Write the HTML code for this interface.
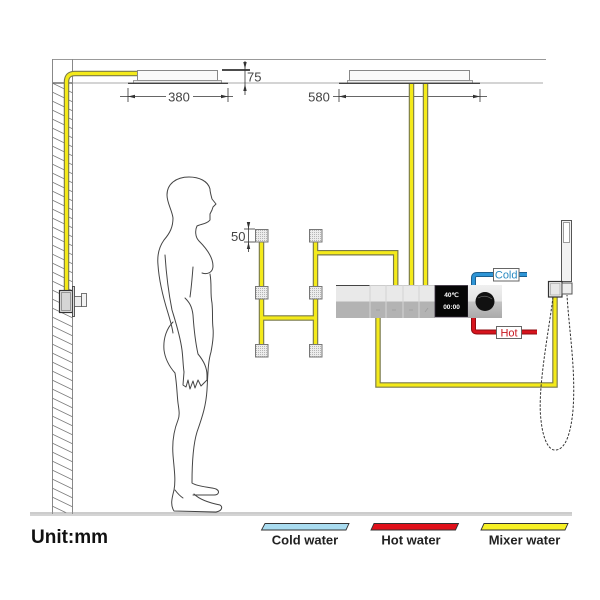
<!DOCTYPE html>
<html><head><meta charset="utf-8">
<style>
html,body{margin:0;padding:0;background:#fff;}
svg{display:block;}
text{font-family:"Liberation Sans",Arial,sans-serif;}
</style></head>
<body>
<svg width="600" height="600" viewBox="0 0 600 600" xmlns="http://www.w3.org/2000/svg">
<defs>
<clipPath id="wallclip"><rect x="52.5" y="83" width="20" height="430"/></clipPath>
<pattern id="dots" width="2" height="2" patternUnits="userSpaceOnUse"><rect width="2" height="2" fill="#ececec"/><rect width="1" height="1" fill="#b5b5b5"/></pattern>
<linearGradient id="knobg" x1="0" y1="0" x2="0" y2="1"><stop offset="0" stop-color="#f0f0f0"/><stop offset="0.5" stop-color="#e2e2e2"/><stop offset="0.5" stop-color="#c4c4c4"/><stop offset="1" stop-color="#aaaaaa"/></linearGradient>
</defs>

<!-- ceiling -->
<line x1="52" y1="59.5" x2="546" y2="59.5" stroke="#999" stroke-width="1"/>
<line x1="52" y1="83" x2="543" y2="83" stroke="#aaa" stroke-width="1"/>
<line x1="52" y1="83" x2="73" y2="83" stroke="#555" stroke-width="1.2"/>

<!-- wall -->
<line x1="52.5" y1="59" x2="52.5" y2="514" stroke="#888" stroke-width="1"/>
<line x1="72.5" y1="59" x2="72.5" y2="514" stroke="#888" stroke-width="1"/>
<g clip-path="url(#wallclip)" stroke="#777" stroke-width="0.8">
<path d="M52,74 L73,84 M52,83 L73,93 M52,92 L73,102 M52,101 L73,111 M52,110 L73,120 M52,119 L73,129 M52,128 L73,138 M52,137 L73,147 M52,146 L73,156 M52,155 L73,165 M52,164 L73,174 M52,173 L73,183 M52,182 L73,192 M52,191 L73,201 M52,200 L73,210 M52,209 L73,219 M52,218 L73,228 M52,227 L73,237 M52,236 L73,246 M52,245 L73,255 M52,254 L73,264 M52,263 L73,273 M52,272 L73,282 M52,281 L73,291 M52,290 L73,300 M52,299 L73,309 M52,308 L73,318 M52,317 L73,327 M52,326 L73,336 M52,335 L73,345 M52,344 L73,354 M52,353 L73,363 M52,362 L73,372 M52,371 L73,381 M52,380 L73,390 M52,389 L73,399 M52,398 L73,408 M52,407 L73,417 M52,416 L73,426 M52,425 L73,435 M52,434 L73,444 M52,443 L73,453 M52,452 L73,462 M52,461 L73,471 M52,470 L73,480 M52,479 L73,489 M52,488 L73,498 M52,497 L73,507 M52,506 L73,516"/>
</g>

<!-- floor -->
<line x1="30" y1="513" x2="572" y2="513" stroke="#999" stroke-width="1"/>
<line x1="30" y1="515" x2="572" y2="515" stroke="#aaa" stroke-width="1"/>

<!-- shower head 1 -->
<rect x="137.5" y="70.5" width="80" height="10" fill="#fafafa" stroke="#888" stroke-width="1"/>
<rect x="133.5" y="80.5" width="88" height="2.5" fill="#eee" stroke="#888" stroke-width="0.8"/>
<line x1="128" y1="83.3" x2="228" y2="83.3" stroke="#444" stroke-width="1.3"/>
<!-- shower head 2 -->
<rect x="349.5" y="70.5" width="120" height="10" fill="#fafafa" stroke="#888" stroke-width="1"/>
<rect x="347.5" y="80.5" width="125" height="2.5" fill="#eee" stroke="#888" stroke-width="0.8"/>
<line x1="339" y1="83.3" x2="480" y2="83.3" stroke="#444" stroke-width="1.3"/>

<!-- dimensions -->
<g stroke="#333" stroke-width="0.8" fill="none">
<line x1="128" y1="88" x2="128" y2="102"/>
<line x1="228" y1="88" x2="228" y2="102"/>
<line x1="120" y1="96.5" x2="166" y2="96.5"/>
<line x1="193" y1="96.5" x2="233" y2="96.5"/>
<line x1="339" y1="89" x2="339" y2="102"/>
<line x1="480" y1="89" x2="480" y2="102"/>
<line x1="333" y1="96.5" x2="487" y2="96.5"/>
<line x1="245" y1="61" x2="245" y2="95"/>
<line x1="248.5" y1="222" x2="248.5" y2="252"/>
<line x1="244" y1="229" x2="255" y2="229"/>
<line x1="244" y1="242" x2="255" y2="242"/>
</g>
<line x1="222" y1="70" x2="250" y2="70" stroke="#333" stroke-width="1.8"/>
<g fill="#333">
<polygon points="128,96.5 135,94.8 135,98.2"/>
<polygon points="228,96.5 221,94.8 221,98.2"/>
<polygon points="339,96.5 346,94.8 346,98.2"/>
<polygon points="480,96.5 473,94.8 473,98.2"/>
<polygon points="245,69 243.3,62 246.7,62"/>
<polygon points="245,84 243.3,91 246.7,91"/>
<polygon points="248.5,229 246.8,222 250.2,222"/>
<polygon points="248.5,242 246.8,249 250.2,249"/>
</g>
<g fill="#444" font-size="13">
<text x="179" y="101.5" text-anchor="middle">380</text>
<text x="319" y="101.5" text-anchor="middle">580</text>
<text x="247" y="81.5">75</text>
<text x="231" y="241">50</text>
</g>

<!-- yellow pipes: outline -->
<g fill="none" stroke="#7a7a4a" stroke-width="5.5" stroke-linejoin="miter">
<path d="M66.5,290 L66.5,82 Q66.5,73.5 75,73.5 L137,73.5"/>
<path d="M411.5,84 L411.5,285"/>
<path d="M425.5,84 L425.5,285"/>
<path d="M395.7,285 L395.7,252.7 L315.5,252.7"/>
<path d="M315.5,242 L315.5,344"/>
<path d="M261.5,242 L261.5,344"/>
<path d="M261.5,318 L315.5,318"/>
<path d="M378,318 L378,385 L555,385 L555,297"/>
</g>
<g fill="none" stroke="#f4ea1a" stroke-width="3.2" stroke-linejoin="miter">
<path d="M66.5,290 L66.5,82 Q66.5,73.5 75,73.5 L137,73.5"/>
<path d="M411.5,84 L411.5,285"/>
<path d="M425.5,84 L425.5,285"/>
<path d="M395.7,285 L395.7,252.7 L315.5,252.7"/>
<path d="M315.5,242 L315.5,344"/>
<path d="M261.5,242 L261.5,344"/>
<path d="M261.5,318 L315.5,318"/>
<path d="M378,318 L378,385 L555,385 L555,297"/>
</g>

<!-- wall mixer -->
<rect x="59.5" y="290.5" width="13" height="22" fill="#e5e5e5" stroke="#333" stroke-width="1.2"/>
<rect x="61.5" y="292.5" width="9" height="18" fill="#d5d5d5" stroke="#666" stroke-width="0.6"/>
<rect x="72.5" y="286.5" width="2" height="30" fill="#ddd" stroke="#333" stroke-width="0.8"/>
<rect x="74.5" y="296.5" width="7" height="10" fill="#eee" stroke="#555" stroke-width="0.8"/>
<rect x="81.5" y="293.5" width="5" height="13" fill="#f3f3f3" stroke="#555" stroke-width="0.8"/>

<!-- body jets -->
<g fill="url(#dots)" stroke="#777" stroke-width="1">
<rect x="255.5" y="229.5" width="12.5" height="12.5"/>
<rect x="255.5" y="286.5" width="12.5" height="12.5"/>
<rect x="255.5" y="344.5" width="12.5" height="12.5"/>
<rect x="309.5" y="229.5" width="12.5" height="12.5"/>
<rect x="309.5" y="286.5" width="12.5" height="12.5"/>
<rect x="309.5" y="344.5" width="12.5" height="12.5"/>
</g>

<!-- cold / hot pipes -->
<path d="M473.5,285 L473.5,278 Q473.5,274.5 477,274.5 L493,274.5 M519,274.5 L527,274.5" fill="none" stroke="#1b5f8f" stroke-width="5"/>
<path d="M473.5,285 L473.5,278 Q473.5,274.5 477,274.5 L493,274.5 M519,274.5 L527,274.5" fill="none" stroke="#2e95d6" stroke-width="3"/>
<path d="M473.5,318 L473.5,329 Q473.5,332 477,332 L496,332 M521.5,332 L537,332" fill="none" stroke="#8e0c12" stroke-width="5"/>
<path d="M473.5,318 L473.5,329 Q473.5,332 477,332 L496,332 M521.5,332 L537,332" fill="none" stroke="#d7141d" stroke-width="3"/>
<rect x="493.5" y="268.5" width="25.5" height="12.5" fill="#fff" stroke="#666" stroke-width="1"/>
<text x="506.2" y="278.7" text-anchor="middle" font-size="11" fill="#2a8ac2">Cold</text>
<rect x="496.5" y="326.5" width="25" height="12" fill="#fff" stroke="#666" stroke-width="1"/>
<text x="509" y="336.5" text-anchor="middle" font-size="11" fill="#c8161e">Hot</text>

<!-- panel -->
<rect x="336" y="285" width="99" height="16.5" fill="#e9e9e9"/>
<rect x="336" y="301.5" width="99" height="16.5" fill="#b3b3b3"/>
<line x1="336" y1="285.5" x2="370" y2="285.5" stroke="#444" stroke-width="1"/>
<line x1="370" y1="285.5" x2="435" y2="285.5" stroke="#ccc" stroke-width="1"/>
<g stroke="#d4d4d4" stroke-width="1">
<line x1="370" y1="285" x2="370" y2="318"/>
<line x1="386" y1="285" x2="386" y2="318"/>
<line x1="403" y1="285" x2="403" y2="318"/>
<line x1="419" y1="285" x2="419" y2="318"/>
</g>
<g stroke="#9d9d9d" stroke-width="0.8">
<line x1="376" y1="310" x2="380" y2="310"/>
<line x1="392" y1="310" x2="396" y2="310"/>
<line x1="409" y1="310" x2="413" y2="310"/>
<line x1="425" y1="312" x2="428" y2="308"/>
</g>
<rect x="435" y="285.5" width="33" height="31.5" fill="#060606" stroke="#3a3040" stroke-width="0.8"/>
<text x="451.5" y="297" text-anchor="middle" font-size="6.5" font-weight="bold" fill="#fff">40℃</text>
<text x="451.5" y="309" text-anchor="middle" font-size="6.5" font-weight="bold" fill="#fff">00:00</text>
<rect x="468" y="285" width="34" height="33" fill="url(#knobg)"/>
<circle cx="485" cy="301.5" r="9.5" fill="#111"/>
<path d="M478,298 Q485,294 492,299" fill="none" stroke="#666" stroke-width="0.7"/>

<!-- hand shower -->
<path d="M553,297 C549,330 537,390 541,420 C543,440 549,451 556,450 C566,449 571,432 573,410 C576,370 569,330 567,295" fill="none" stroke="#333" stroke-width="1" stroke-dasharray="2.5,1.5"/>
<rect x="561.5" y="220.5" width="10" height="61" fill="#f2f2f2" stroke="#555" stroke-width="1"/>
<rect x="563.5" y="222.5" width="6" height="20" fill="#fff" stroke="#777" stroke-width="0.7"/>
<rect x="548.5" y="281.5" width="13.5" height="15.5" fill="#f0f0f0" stroke="#333" stroke-width="1.2"/>
<rect x="550.5" y="283.5" width="9.5" height="11.5" fill="#e6e6e6" stroke="#999" stroke-width="0.6"/>
<rect x="562" y="283" width="10" height="11" fill="#eee" stroke="#555" stroke-width="1"/>

<!-- person -->
<g fill="none" stroke="#444" stroke-width="1" stroke-linejoin="round" stroke-linecap="round">
<path d="M202,273 C208,275 213,272 213,266 C213,258 207,249 199,241 C195,237 195,230 197,226 C201,224 207,224 210,220 L210,214 L212,210 L213,207 L216,204 L212,199 C211,195 210,192 210,189 C208,181 199,177 189,177 C176,177 167,184 167,195 C167,203 172,210 173,218 C173,227 170,233 164,240 C159,247 157,255 158,265 C159,280 163,297 168,313 C170,320 172,326 173,333"/>
<path d="M173,322 C167,328 163,338 164,350 C165,358 168,365 175,373 C177,385 177,395 178,403 C179,410 180,415 178,420 C174,430 172,442 173,455 C174,468 176,480 174,490 C172,498 170,505 174,511 L216,512 C222,511 223,507 220,505 C210,503 200,500 194,494"/>
<path d="M210,274 C212,285 210,293 212,303 C213,313 212,320 213,328 C214,338 212,346 211,352 C208,362 208,372 207,390 C206,405 203,415 197,432 C193,445 192,465 192,483 C198,487 210,487 216,489 C220,491 219,495 214,495 L193,495"/>
<path d="M175,490 C178,494 180,496 183,498"/>
<path d="M165,255 C166,270 168,290 172,310 C175,320 180,335 182,350 C183,358 183,365 184,372"/>
<path d="M193,267 C192,280 191,290 190,297"/>
<path d="M185,298 C189,302 192,306 193,315 C194,330 196,345 198,354 C203,360 207,367 207,375"/>
<path d="M184,372 L183,385 L186,387 L188,380 L190,389 L193,381 L195,388 L198,380 L201,386 L204,383 L207,380 L207,375"/>
</g>

<!-- legend -->
<text x="31" y="543" font-size="19" font-weight="bold" fill="#111">Unit:mm</text>
<polygon points="265,523.5 349,523.5 346,530 261.5,530" fill="#a9dcf0" stroke="#333" stroke-width="0.9"/>
<polygon points="374,523.5 458.5,523.5 455.5,530 371,530" fill="#e0101a" stroke="#333" stroke-width="0.9"/>
<polygon points="484,523.5 568,523.5 565,530 481,530" fill="#f7f125" stroke="#333" stroke-width="0.9"/>
<g font-size="13" font-weight="bold" fill="#222" text-anchor="middle">
<text x="305" y="544.5">Cold water</text>
<text x="411" y="544.5">Hot water</text>
<text x="524.5" y="544.5">Mixer water</text>
</g>
</svg>
</body></html>
